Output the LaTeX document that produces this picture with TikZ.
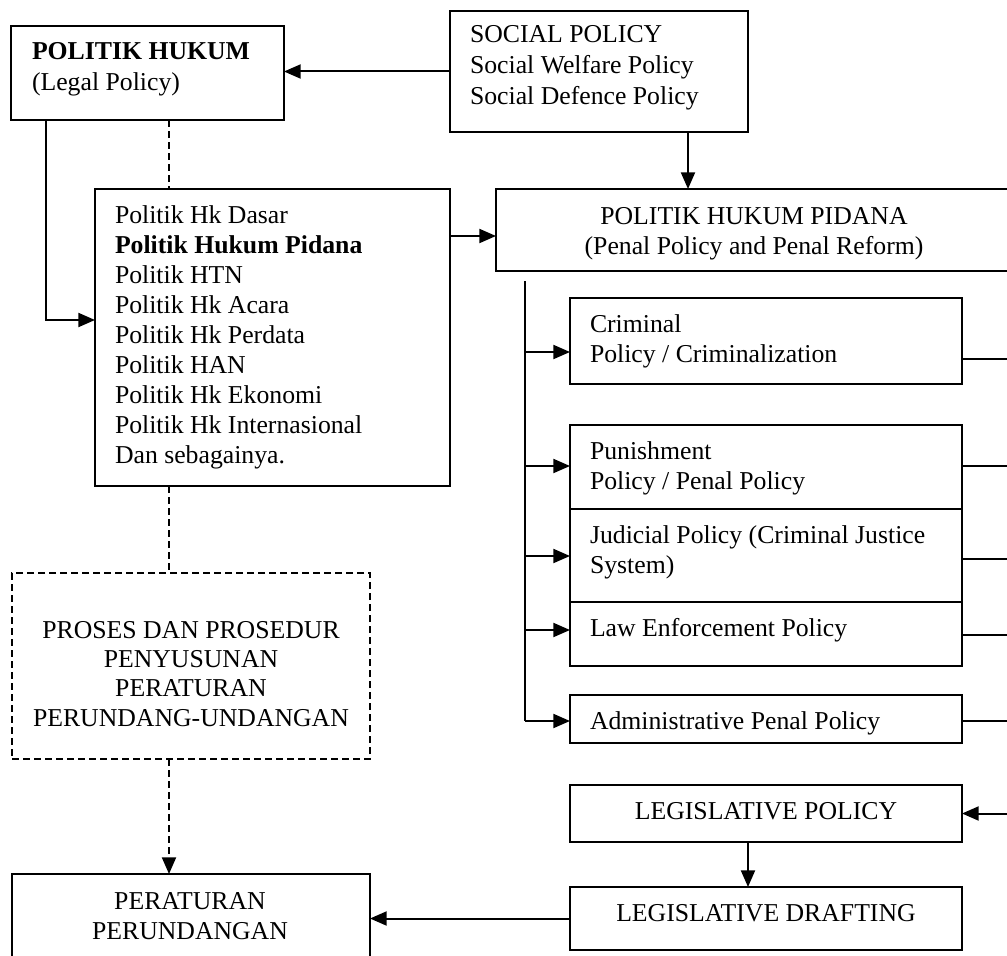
\documentclass[tikz,border=0pt]{standalone}
\usepackage{fontspec}
\setmainfont{Liberation Serif}
\usetikzlibrary{arrows.meta}
\begin{document}
\begin{tikzpicture}[x=0.75pt,y=-0.75pt,
  box/.style={draw,line width=1.5pt,rectangle,inner sep=0pt,outer sep=0pt,anchor=north west},
  bx/.style 2 args={box,minimum width=#1*0.75pt,minimum height=#2*0.75pt},
  dbx/.style 2 args={bx={#1}{#2},dash pattern=on 5.25pt off 3pt},
  txt/.style={inner sep=0pt,outer sep=0pt,anchor=base west,font=\fontsize{19.3}{22.5}\selectfont},
  ctxt/.style={txt,anchor=base},
  conn/.style={line width=1.5pt},
  tip/.style={-{Triangle[length=12.5pt,width=10.5pt]}},
  arr/.style={conn,tip},
  dline/.style={conn,dash pattern=on 5.25pt off 3pt},
]
\useasboundingbox (0,0) rectangle (1007,956);
\clip (0,0) rectangle (1007,956);

% boxes
\node[bx={273}{94}] (polhuk) at (11,26) {};
\node[bx={298}{121}] (social) at (450,11) {};
\node[bx={355}{297}] (list) at (95,189) {};
\node[bx={516}{82}] (php) at (496,189) {};
\node[bx={392}{86}] (crim) at (570,298) {};
\node[bx={392}{84}] (pun) at (570,425) {};
\node[bx={392}{93}] (jud) at (570,509) {};
\node[bx={392}{64}] (law) at (570,602) {};
\node[bx={392}{48}] (adm) at (570,695) {};
\node[bx={392}{57}] (lp) at (570,785) {};
\node[bx={392}{63}] (ld) at (570,887) {};
\node[bx={358}{110}] (per) at (12,874) {};
\node[dbx={358}{186}] (proc) at (12,573) {};

% texts
\node[txt,font=\fontsize{19.3}{22.5}\selectfont\bfseries] (t1) at (32,60) {POLITIK HUKUM};
\node[txt] (t2) at (32,90) {(Legal Policy)};
\node[txt] (s1) at (470,43) {SOCIAL POLICY};
\node[txt] (s2) at (470,73.5) {Social Welfare Policy};
\node[txt] (s3) at (470,104) {Social Defence Policy};
\node[txt] (l1) at (115,223) {Politik Hk Dasar};
\node[txt,font=\fontsize{19.3}{22.5}\selectfont\bfseries] (l2) at (115,253) {Politik Hukum Pidana};
\node[txt] (l3) at (115,283) {Politik HTN};
\node[txt] (l4) at (115,313) {Politik Hk Acara};
\node[txt] (l5) at (115,343) {Politik Hk Perdata};
\node[txt] (l6) at (115,373) {Politik HAN};
\node[txt] (l7) at (115,403) {Politik Hk Ekonomi};
\node[txt] (l8) at (115,433) {Politik Hk Internasional};
\node[txt] (l9) at (115,463) {Dan sebagainya.};
\node[ctxt] (p1) at (754,224) {POLITIK HUKUM PIDANA};
\node[ctxt] (p2) at (754,254) {(Penal Policy and Penal Reform)};
\node[txt] (c1) at (590,332) {Criminal};
\node[txt] (c2) at (590,362) {Policy / Criminalization};
\node[txt] (u1) at (590,459) {Punishment};
\node[txt] (u2) at (590,489) {Policy / Penal Policy};
\node[txt] (j1) at (590,543) {Judicial Policy (Criminal Justice};
\node[txt] (j2) at (590,573) {System)};
\node[txt] (e1) at (590,636) {Law Enforcement Policy};
\node[txt] (a1) at (590,729) {Administrative Penal Policy};
\node[ctxt] (lp1) at (766,819) {LEGISLATIVE POLICY};
\node[ctxt] (ld1) at (766,921) {LEGISLATIVE DRAFTING};
\node[ctxt] (r1) at (190,909) {PERATURAN};
\node[ctxt] (r2) at (190,939) {PERUNDANGAN};
\node[ctxt] (d1) at (191,638) {PROSES DAN PROSEDUR};
\node[ctxt] (d2) at (191,667.3) {PENYUSUNAN};
\node[ctxt] (d3) at (191,696.6) {PERATURAN};
\node[ctxt] (d4) at (191,726) {PERUNDANG-UNDANGAN};

% helper coordinates
\coordinate (dx) at (169,0);
\coordinate (lx) at (46,0);
\coordinate (ly) at (0,320);
\coordinate (py) at (0,236);
\coordinate (sx) at (688,0);
\coordinate (tx) at (525,0);
\coordinate (ttop) at (525,281);
\coordinate (rx) at (1012,0);
\coordinate (ldx) at (748,0);
\coordinate (yc) at (0,352);
\coordinate (yu) at (0,466);
\coordinate (yj) at (0,556);
\coordinate (ye) at (0,630);
\coordinate (ya) at (0,721);

% connectors
\draw[arr] (social.west) -- (social.west -| polhuk.east);
\draw[dline] (polhuk.south -| dx) -- (list.north -| dx);
\draw[arr] (polhuk.south -| lx) |- (list.west |- ly);
\draw[arr] (list.east |- py) -- (php.west |- py);
\draw[arr] (social.south -| sx) -- (php.north -| sx);
\draw[conn] (ttop) -- (tx |- ya);
\draw[arr] (tx |- yc) -- (crim.west |- yc);
\draw[arr] (tx |- yu) -- (pun.west |- yu);
\draw[arr] (tx |- yj) -- (jud.west |- yj);
\draw[arr] (tx |- ye) -- (law.west |- ye);
\draw[arr] (tx |- ya) -- (adm.west |- ya);
\draw[conn] (crim.east |- 0,359) -- (rx |- 0,359);
\draw[conn] (pun.east |- 0,466) -- (rx |- 0,466);
\draw[conn] (jud.east |- 0,559) -- (rx |- 0,559);
\draw[conn] (law.east |- 0,635) -- (rx |- 0,635);
\draw[conn] (adm.east |- 0,721) -- (rx |- 0,721);
\draw[arr] (rx |- lp.east) -- (lp.east);
\draw[arr] (lp.south -| ldx) -- (ld.north -| ldx);
\draw[arr] (ld.west) -- (ld.west -| per.east);
\draw[dline] (list.south -| dx) -- (proc.north -| dx);
\draw[dline,tip] (proc.south -| dx) -- (per.north -| dx);
\end{tikzpicture}
\end{document}
